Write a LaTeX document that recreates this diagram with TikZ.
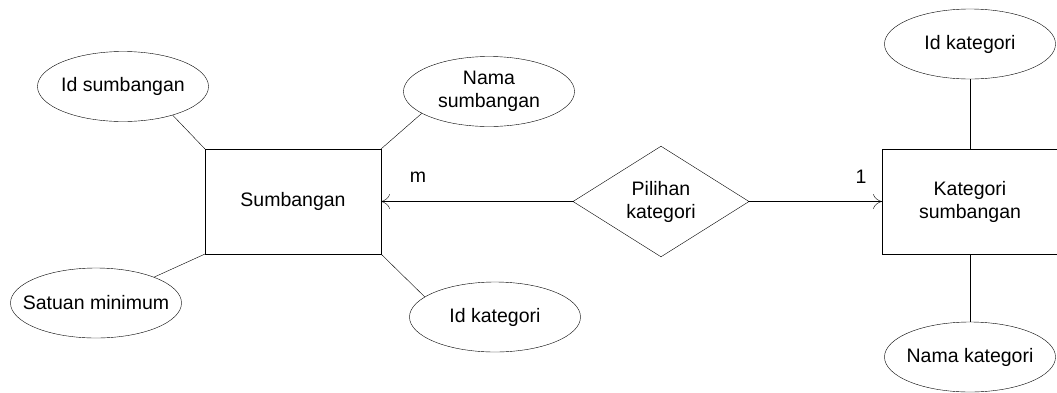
\documentclass[tikz,border=0pt]{standalone}
\usepackage{fontspec}
\setmainfont{Liberation Sans}
\usetikzlibrary{shapes.geometric,arrows.meta}

\begin{document}
\begin{tikzpicture}[x=1pt,y=-1pt,
        every node/.style={font=\fontsize{19.5}{23}\selectfont,align=center},
        attr/.style={draw,ellipse,minimum width=171pt,minimum height=70pt,inner xsep=-15pt,inner ysep=0pt},
        entity/.style={draw,minimum width=176pt,minimum height=105pt,outer sep=0pt},
        rel/.style={draw,diamond,minimum width=176pt,minimum height=107pt,inner sep=0pt,outer sep=0pt},
        card/.style={-{Computer Modern Rightarrow[length=9pt,width=15pt]}}]
        \useasboundingbox (0,0) rectangle (1057,392);

        % entities
        \node[entity] (sum) at (293,201.5) {Sumbangan};
        \node[entity] (kat) at (970,201.5) {Kategori\\sumbangan};
        \node[rel] (pil) at (661,201.5) {Pilihan\\kategori};

        % attributes
        \node[attr] (ids) at (123,86.5) {Id sumbangan};
        \node[attr] (nms) at (489,91.5) {Nama\\sumbangan};
        \node[attr] (sat) at (96,303) {Satuan minimum};
        \node[attr] (idk) at (495,317) {Id kategori};
        \node[attr] (kid) at (970,44) {Id kategori};
        \node[attr] (nmk) at (970,357) {Nama kategori};

        \foreach \a/\b in {ids.-30/sum.north west, nms.-162/sum.north east,
            sat.24/sum.south west, idk.164/sum.south east,
            kid.south/kat.north, nmk.north/kat.south}{
            \draw (\a)--(\b);
        }

        % relation
        \draw[card] (pil.west)--(sum.east);
        \draw[card] (pil.east)--(kat.west);
        \node (m) at (418,177) {m};
        \node (one) at (861,177) {1};
    \end{tikzpicture}
\end{document}
